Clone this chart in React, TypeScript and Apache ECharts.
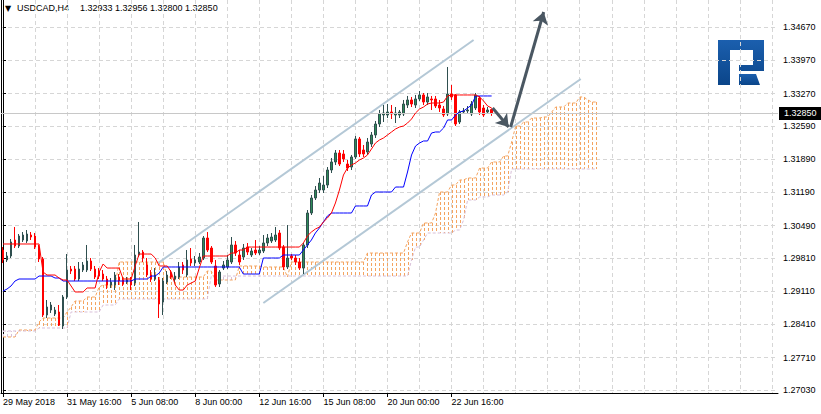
import React, { useEffect, useRef } from 'react';
import * as echarts from 'echarts';

// ---------------- data ----------------
const symbolName = 'USDCAD,H4';
const xLabels = ['29 May 2018', '31 May 16:00', '5 Jun 08:00', '8 Jun 00:00', '12 Jun 16:00', '15 Jun 08:00', '20 Jun 00:00', '22 Jun 16:00'];
const barsPerLabel = 16;
const gridBars = [8, 16, 24, 32, 40, 48, 56, 64, 72, 80, 88, 96, 104, 112, 120, 128, 136, 144, 152, 160, 168, 176, 184, 192];
const yTicks = [1.2703, 1.2771, 1.2841, 1.2911, 1.2981, 1.3049, 1.3119, 1.3189, 1.3259, 1.3327, 1.3397, 1.3467];
const totalSlots = 194;
const ichimokuShift = 26;
const yMin = 1.26967;
const yMax = 1.35238;

const opens = [1.29976, 1.29766, 1.2985, 1.30187, 1.3006, 1.30187, 1.30166, 1.30292, 1.30271, 1.30039,
  1.29787, 1.28608, 1.28713, 1.28629, 1.28672, 1.28377, 1.28987, 1.29576, 1.29576, 1.29366,
  1.29555, 1.29555, 1.29745, 1.29576, 1.29534, 1.29471, 1.29366, 1.2924, 1.2924, 1.29408,
  1.29345, 1.29303, 1.29345, 1.29282, 1.29871, 1.29934, 1.29661, 1.2945, 1.29366, 1.29345,
  1.28882, 1.29303, 1.29492, 1.29366, 1.29408, 1.29661, 1.2945, 1.29787, 1.29703, 1.29724,
  1.29808, 1.30229, 1.30018, 1.2964, 1.29261, 1.29597, 1.29619, 1.29724, 1.30082, 1.29871,
  1.29829, 1.30039, 1.29871, 1.29976, 1.29913, 1.29955, 1.30124, 1.30166, 1.30187, 1.30334,
  1.30039, 1.29619, 1.2985, 1.29808, 1.29724, 1.29597, 1.30082, 1.30755, 1.31071, 1.31239,
  1.31239, 1.31344, 1.3166, 1.31829, 1.32018, 1.31997, 1.31786, 1.31723, 1.31934, 1.32313,
  1.32081, 1.32039, 1.32207, 1.32397, 1.32628, 1.32818, 1.32818, 1.32881, 1.32818, 1.32818,
  1.32839, 1.33028, 1.33134, 1.33028, 1.33155, 1.33239, 1.33091, 1.33155, 1.33155, 1.33028,
  1.32944, 1.32839, 1.3326, 1.33239, 1.3267, 1.32881, 1.32902, 1.32839, 1.32965, 1.33176,
  1.32965, 1.32881, 1.32933];
const highs = [1.30039, 1.29934, 1.30208, 1.3046, 1.30313, 1.30355, 1.30397, 1.30355, 1.30334, 1.30082,
  1.29829, 1.28924, 1.28882, 1.28777, 1.28819, 1.29029, 1.29892, 1.2964, 1.2964, 1.29724,
  1.29724, 1.30082, 1.29808, 1.2964, 1.29597, 1.29555, 1.29429, 1.29387, 1.29513, 1.29471,
  1.29408, 1.29408, 1.29408, 1.30082, 1.30566, 1.29976, 1.29808, 1.29555, 1.29597, 1.29408,
  1.29387, 1.29534, 1.29555, 1.29513, 1.29724, 1.29724, 1.29976, 1.30018, 1.2985, 1.29913,
  1.30271, 1.30355, 1.3006, 1.29766, 1.29555, 1.29745, 1.29871, 1.3025, 1.30166, 1.29976,
  1.30103, 1.30124, 1.30018, 1.30187, 1.3006, 1.30292, 1.30313, 1.30334, 1.3046, 1.30397,
  1.30082, 1.30502, 1.29892, 1.29871, 1.29808, 1.30124, 1.30818, 1.31134, 1.31323, 1.31492,
  1.31534, 1.31723, 1.31913, 1.32081, 1.32081, 1.32081, 1.31871, 1.31976, 1.32376, 1.32355,
  1.32186, 1.32334, 1.3246, 1.32691, 1.32923, 1.33028, 1.33049, 1.33028, 1.32986, 1.32923,
  1.33134, 1.33218, 1.33197, 1.33239, 1.33323, 1.33281, 1.33281, 1.33218, 1.33218, 1.33134,
  1.33007, 1.33828, 1.33449, 1.3326, 1.32923, 1.32965, 1.33007, 1.33112, 1.33281, 1.33218,
  1.33028, 1.32986, 1.32956];
const lows = [1.29703, 1.29724, 1.29808, 1.30018, 1.30018, 1.30145, 1.30124, 1.30187, 1.29997, 1.29724,
  1.28566, 1.28545, 1.28651, 1.28587, 1.28377, 1.28314, 1.28945, 1.29471, 1.29324, 1.29324,
  1.29513, 1.29513, 1.29534, 1.29366, 1.29366, 1.29324, 1.29155, 1.29177, 1.29134, 1.2924,
  1.29219, 1.29261, 1.29134, 1.29219, 1.29829, 1.29724, 1.29408, 1.29303, 1.29324, 1.28545,
  1.28608, 1.29261, 1.29366, 1.29303, 1.29366, 1.29471, 1.29408, 1.2964, 1.2964, 1.29682,
  1.29766, 1.29934, 1.29682, 1.29198, 1.29198, 1.29555, 1.29576, 1.29682, 1.2985, 1.29661,
  1.29766, 1.29871, 1.29829, 1.29871, 1.29871, 1.29913, 1.3006, 1.30124, 1.30145, 1.29976,
  1.29555, 1.29576, 1.29766, 1.29661, 1.29555, 1.29471, 1.30018, 1.30713, 1.31029, 1.31176,
  1.31176, 1.31281, 1.31597, 1.31765, 1.31744, 1.31829, 1.31639, 1.3166, 1.31892, 1.31934,
  1.31934, 1.31976, 1.32144, 1.32334, 1.32565, 1.3267, 1.32754, 1.32733, 1.32649, 1.32754,
  1.32797, 1.32965, 1.32986, 1.32965, 1.33112, 1.33028, 1.33028, 1.32923, 1.32965, 1.32881,
  1.32776, 1.32797, 1.33134, 1.32586, 1.32628, 1.32839, 1.3286, 1.32797, 1.32923, 1.32818,
  1.32776, 1.3286, 1.328];
const closes = [1.29766, 1.2985, 1.30145, 1.3006, 1.30271, 1.30292, 1.30313, 1.3025, 1.30039, 1.29787,
  1.28608, 1.28777, 1.28819, 1.28713, 1.28398, 1.28987, 1.29555, 1.29534, 1.29366, 1.29576,
  1.29661, 1.29745, 1.29576, 1.29408, 1.29429, 1.29366, 1.2924, 1.29303, 1.2945, 1.29324,
  1.29261, 1.29345, 1.2924, 1.29871, 1.29934, 1.29808, 1.2945, 1.29366, 1.2945, 1.2884,
  1.29324, 1.2945, 1.29408, 1.29429, 1.29619, 1.29555, 1.29766, 1.29703, 1.29766, 1.29829,
  1.30229, 1.29976, 1.29724, 1.2924, 1.29513, 1.29661, 1.29766, 1.30082, 1.29913, 1.29724,
  1.30018, 1.29934, 1.29955, 1.29913, 1.29976, 1.30124, 1.30229, 1.3025, 1.30292, 1.30018,
  1.29619, 1.29808, 1.29808, 1.29724, 1.29597, 1.30082, 1.30755, 1.31071, 1.31239, 1.31386,
  1.31344, 1.3166, 1.31829, 1.32018, 1.31786, 1.31892, 1.31702, 1.31934, 1.32313, 1.31997,
  1.31997, 1.32249, 1.32397, 1.32628, 1.32839, 1.3286, 1.32881, 1.32839, 1.3286, 1.32881,
  1.33049, 1.33134, 1.33049, 1.33155, 1.33239, 1.33091, 1.33197, 1.33134, 1.33007, 1.32965,
  1.32818, 1.3326, 1.33197, 1.32628, 1.32881, 1.32902, 1.32923, 1.33049, 1.33239, 1.32881,
  1.32818, 1.32923, 1.3285];

// Ichimoku lines as runs: [first bar of run, value]
const tenkanRuns = [[0, 1.30103], [10, 1.29513], [11, 1.2945], [14, 1.29387], [15, 1.29345], [17, 1.29219],
  [18, 1.29093], [21, 1.29177], [24, 1.29513], [25, 1.29682], [26, 1.29597], [30, 1.29366], [33, 1.2964],
  [34, 1.29892], [38, 1.29808], [39, 1.2964], [42, 1.29513], [43, 1.2924], [44, 1.29134], [46, 1.2924],
  [47, 1.29282], [48, 1.29324], [49, 1.29597], [50, 1.2985], [57, 1.29913], [59, 1.29976], [61, 1.30039],
  [75, 1.30124], [76, 1.30271], [77, 1.30355], [78, 1.30418], [79, 1.3046], [80, 1.30566], [81, 1.3065],
  [82, 1.30755], [83, 1.30966], [84, 1.31239], [85, 1.31555], [86, 1.31702], [87, 1.31765], [88, 1.31808],
  [89, 1.31871], [90, 1.31913], [91, 1.31976], [92, 1.32102], [93, 1.32229], [94, 1.32292], [95, 1.32334],
  [96, 1.32397], [97, 1.3246], [98, 1.32523], [99, 1.32565], [100, 1.32586], [101, 1.32649], [102, 1.32733],
  [103, 1.3286], [104, 1.32944], [105, 1.32986], [106, 1.33049], [107, 1.3307], [110, 1.33091], [111, 1.33218],
  [112, 1.33239], [119, 1.33197], [120, 1.33112], [121, 1.33007], [122, 1.32965]];
const kijunRuns = [[0, 1.29113], [1, 1.29155], [2, 1.29219], [3, 1.29324], [4, 1.29366], [9, 1.29429],
  [13, 1.29387], [15, 1.29324], [33, 1.29366], [37, 1.29429], [39, 1.29492], [40, 1.29619], [60, 1.29471],
  [65, 1.29808], [70, 1.29871], [75, 1.29976], [76, 1.30082], [77, 1.30187], [78, 1.30334], [79, 1.3044],
  [80, 1.30566], [81, 1.30692], [82, 1.30755], [88, 1.30903], [92, 1.31134], [93, 1.31197], [98, 1.31302],
  [101, 1.31618], [102, 1.31976], [103, 1.32165], [104, 1.32229], [105, 1.32271], [107, 1.32439],
  [108, 1.3246], [110, 1.32544], [111, 1.32713], [113, 1.32818], [114, 1.32881], [115, 1.32902],
  [116, 1.32965], [117, 1.33028], [118, 1.33218]];
const spanARuns = [[0, 1.28146], [4, 1.28293], [9, 1.28461], [10, 1.28545], [16, 1.28672], [17, 1.28777],
  [18, 1.28903], [21, 1.28987], [24, 1.29198], [25, 1.2924], [29, 1.29724], [41, 1.29408], [51, 1.29534],
  [53, 1.29345], [59, 1.2964], [65, 1.29619], [71, 1.29408], [72, 1.29724], [91, 1.29913], [101, 1.30145],
  [102, 1.30334], [105, 1.30545], [108, 1.30755], [109, 1.31197], [112, 1.31344], [114, 1.3145],
  [116, 1.31492], [119, 1.31702], [122, 1.31829], [125, 1.31955], [127, 1.32249], [128, 1.32586],
  [130, 1.3267], [132, 1.32754], [135, 1.32776], [137, 1.32881], [138, 1.32986], [141, 1.3307],
  [144, 1.33197], [146, 1.33134], [147, 1.33091]];
const spanBRuns = [[0, 1.28272], [9, 1.28335], [17, 1.28672], [25, 1.28819], [29, 1.28945], [52, 1.29429],
  [102, 1.29766], [103, 1.30039], [105, 1.30187], [106, 1.30334], [113, 1.30397], [115, 1.30608],
  [116, 1.31029], [119, 1.31092], [122, 1.31134], [126, 1.31197], [127, 1.31681]];

// drawn objects: [bar, price] end points
const channelUpper = [[38.75, 1.29703], [117.5, 1.34396]];
const channelLower = [[65, 1.28861], [144.25, 1.33575]];
const arrowUp = [[126.75, 1.32565], [135, 1.34985]];
const arrowDown = [[122.25, 1.32965], [126.25, 1.32565]];

// ---------------- helpers ----------------
const FONT = "'Liberation Sans', Arial, sans-serif";

function expandRuns(runs: number[][], lastIndex: number): number[][] {
  const out: number[][] = [];
  for (let r = 0; r < runs.length; r++) {
    const start = runs[r][0];
    const stop = r + 1 < runs.length ? runs[r + 1][0] - 1 : lastIndex;
    for (let i = start; i <= stop; i++) out.push([i, runs[r][1]]);
  }
  return out;
}

function buildOption() {
  const lastBar = closes.length - 1;
  const cloudEnd = lastBar + ichimokuShift;
  const categories = Array.from({ length: totalSlots }, (_, i) => String(i));
  const candles = opens.map((o, i) => [o, closes[i], lows[i], highs[i]]);
  const tenkan = expandRuns(tenkanRuns, lastBar);
  const kijun = expandRuns(kijunRuns, lastBar);
  const spanA = expandRuns(spanARuns, cloudEnd);
  const spanB = expandRuns(spanBRuns, cloudEnd);
  const cloud = spanA.map((p, i) => [p[0], p[1], spanB[i][1]]);
  const isLabelBar = (i: number) => i % barsPerLabel === 0 && i / barsPerLabel < xLabels.length;
  const gridLine = { color: '#d6d6d6', type: [4, 3] as any, width: 1 };
  const lastValues = [opens[lastBar], highs[lastBar], lows[lastBar], closes[lastBar]].map((v) => v.toFixed(5)).join(' ');
  const bid = closes[lastBar];

  const lineSeries = (name: string, data: number[][], color: string, width: number, dash?: number[], z = 5) => ({
    name, type: 'line', xAxisIndex: 1, yAxisIndex: 0, data, symbol: 'none', silent: true, z,
    lineStyle: { color, width, type: dash ? dash : 'solid' },
  });

  const logoFill = new echarts.graphic.LinearGradient(0, 0, 0, 1, [
    { offset: 0, color: '#1b5fae' },
    { offset: 1, color: '#0b4589' },
  ]);

  return {
    animation: false,
    backgroundColor: '#ffffff',
    grid: { left: 1, right: 43, top: 0, bottom: 21, containLabel: false, outerBoundsMode: 'none' },
    xAxis: [
      {
        type: 'category', data: categories, boundaryGap: true, position: 'bottom',
        axisLine: { show: true, lineStyle: { color: '#000', width: 1 } },
        axisTick: { show: true, alignWithLabel: true, interval: (i: number) => isLabelBar(i), length: 4, lineStyle: { color: '#000' } },
        axisLabel: {
          interval: (i: number) => isLabelBar(i), align: 'left', color: '#000', fontSize: 9, fontFamily: FONT, margin: 4,
          formatter: (_v: string, i: number) => (isLabelBar(i) ? xLabels[i / barsPerLabel] : ''),
        },
        splitLine: { show: false },
      },
      {
        type: 'value', min: -0.5, max: totalSlots - 0.5, position: 'top',
        axisLine: { show: false }, axisLabel: { show: false },
        axisTick: { show: false, customValues: gridBars },
        splitLine: { show: true, lineStyle: gridLine },
      },
    ],
    yAxis: [
      {
        type: 'value', position: 'right', min: yMin, max: yMax,
        axisLine: { show: true, lineStyle: { color: '#000', width: 1 } },
        axisTick: { show: true, customValues: yTicks, length: 3, lineStyle: { color: '#000' } },
        axisLabel: { customValues: yTicks, formatter: (v: number) => v.toFixed(5), color: '#000', fontSize: 9, fontFamily: FONT, margin: 5 },
        splitLine: { show: true, lineStyle: gridLine },
      },
      {
        type: 'value', position: 'left', min: yMin, max: yMax,
        axisLine: { show: true, lineStyle: { color: '#000', width: 1 } },
        axisTick: { show: false }, axisLabel: { show: false }, splitLine: { show: false },
      },
    ],
    graphic: [
      { type: 'text', left: 5, top: 4, style: { text: '▼', fill: '#000', font: "8px 'DejaVu Sans'" } },
      { type: 'text', left: 17, top: 3, style: { text: symbolName, fill: '#000', font: `9px ${FONT}` } },
      { type: 'text', left: 80, top: 3, style: { text: lastValues, fill: '#000', font: `9px ${FONT}` } },
      {
        type: 'group', left: 718, top: 40, children: [
          { type: 'polygon', shape: { points: [[0, 0], [46, 0], [46, 31], [21, 31], [21, 25], [35, 25], [35, 10], [12, 10], [12, 45], [0, 45]] }, style: { fill: logoFill } },
          { type: 'polygon', shape: { points: [[21, 34], [38, 34], [42, 45], [21, 45]] }, style: { fill: logoFill } },
        ],
      },
    ],
    series: [
      {
        name: 'cloud', type: 'custom', xAxisIndex: 1, yAxisIndex: 0, data: cloud, silent: true, z: 1,
        encode: { x: 0, y: [1, 2] },
        renderItem: (_params: any, api: any) => {
          const bar = api.value(0);
          const a = api.value(1);
          const b = api.value(2);
          const p1 = api.coord([bar, a]);
          const p2 = api.coord([bar, b]);
          const x = Math.round(p1[0]) + 0.5;
          return {
            type: 'line',
            shape: { x1: x, y1: p1[1], x2: x, y2: p2[1] },
            style: { stroke: a >= b ? '#F4A460' : '#D8BFD8', lineWidth: 1, lineDash: [3, 2] },
          };
        },
      },
      lineSeries('Senkou Span A', spanA, '#F4A460', 1, [3, 2], 2),
      lineSeries('Senkou Span B', spanB, '#D8BFD8', 1, [3, 2], 2),
      lineSeries('channel upper', channelUpper, '#b4c8d6', 2, undefined, 3),
      lineSeries('channel lower', channelLower, '#b4c8d6', 2, undefined, 3),
      {
        name: symbolName, type: 'candlestick', xAxisIndex: 0, yAxisIndex: 0, data: candles, barWidth: 2, z: 4, silent: true,
        itemStyle: { color: '#2E8B57', color0: '#FF0000', borderColor: '#2F4F4F', borderColor0: '#FF0000', borderWidth: 1 },
        markLine: {
          silent: true, symbol: ['none', 'none'], animation: false, precision: 5,
          data: [{ yAxis: bid }],
          lineStyle: { color: '#c8c8c8', type: 'solid', width: 1 },
          label: {
            show: true, position: 'end', distance: 1, formatter: () => bid.toFixed(5),
            backgroundColor: '#000', color: '#fff', fontSize: 9, fontFamily: FONT, padding: [2, 5, 2, 5],
          },
        },
      },
      lineSeries('Kijun-sen', kijun, '#0000FF', 1, undefined, 6),
      lineSeries('Tenkan-sen', tenkan, '#FF0000', 1, undefined, 6),
      {
        name: 'arrows', type: 'lines', coordinateSystem: 'cartesian2d', xAxisIndex: 1, yAxisIndex: 0, silent: true, z: 8,
        symbol: ['none', 'arrow'], symbolSize: 12,
        lineStyle: { color: '#4a5762', width: 3, opacity: 1 },
        data: [{ coords: arrowUp }, { coords: arrowDown }],
      },
    ],
  };
}

export default function App() {
  const ref = useRef<HTMLDivElement>(null);
  useEffect(() => {
    document.body.style.margin = '0';
    const chart = echarts.init(ref.current!, null, { renderer: 'svg' });
    chart.setOption(buildOption() as any);
    return () => chart.dispose();
  }, []);
  return <div ref={ref} style={{ width: 821, height: 414 }} />;
}
